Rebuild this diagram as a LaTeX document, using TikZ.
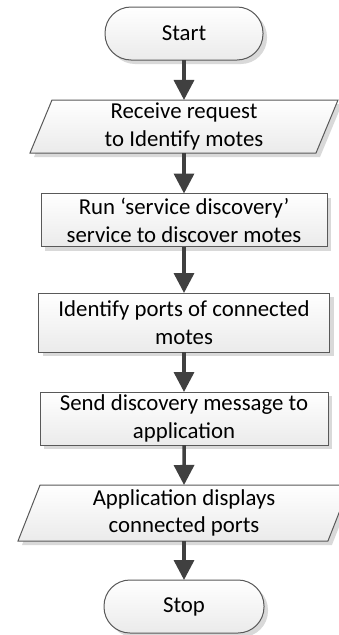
\documentclass[tikz,border=0pt]{standalone}
\usepackage{fontspec}
\setmainfont{Carlito}
\usepackage{xcolor}
\usepackage{tikz}
\usetikzlibrary{arrows.meta,positioning,shapes.geometric,shadows}

\begin{document}
\begin{tikzpicture}[x=1pt,y=-1pt,
  box/.style={draw=black!65,line width=1pt,top color=white,bottom color=black!8,
    drop shadow={shadow xshift=4pt,shadow yshift=-4pt,fill=black!15,opacity=1},
    font=\fontsize{22.8}{27.8}\selectfont,align=center,inner sep=0pt,outer sep=0pt},
  procbox/.style={box,rectangle,minimum height=53pt},
  iobox/.style={box,trapezium,trapezium left angle=65,trapezium right angle=115,
    trapezium stretches body,minimum height=53pt},
  termbox/.style={box,rectangle,rounded corners=26pt,minimum width=158pt,minimum height=53pt},
  flow/.style={draw=black!75,line width=3.5pt,-{Triangle[length=20pt,width=20pt]}}]
\useasboundingbox (0,0) rectangle (339,635);
\node[termbox] (start) at (184,33.5) {Start};
\node[iobox,minimum width=308pt] (recv) at (184,126.5) {Receive request\\to Identify motes};
\node[procbox,minimum width=286pt] (rundisc) at (184,220) {Run ‘service discovery’\\service to discover motes};
\node[procbox,minimum width=291pt,minimum height=59pt] (ports) at (184,322.5) {Identify ports of connected\\motes};
\node[procbox,minimum width=288pt] (sendmsg) at (184,418.5) {Send discovery message to\\application};
\node[iobox,minimum width=332pt,minimum height=56pt] (appdisp) at (184,513) {Application displays\\connected ports};
\node[termbox,minimum width=160pt] (stop) at (184,606.5) {Stop};
% flow arrows
\foreach \a/\b in {start/recv,recv/rundisc,rundisc/ports,ports/sendmsg,sendmsg/appdisp,appdisp/stop}
  \draw[flow] (\a) -- (\b);
\end{tikzpicture}
\end{document}
